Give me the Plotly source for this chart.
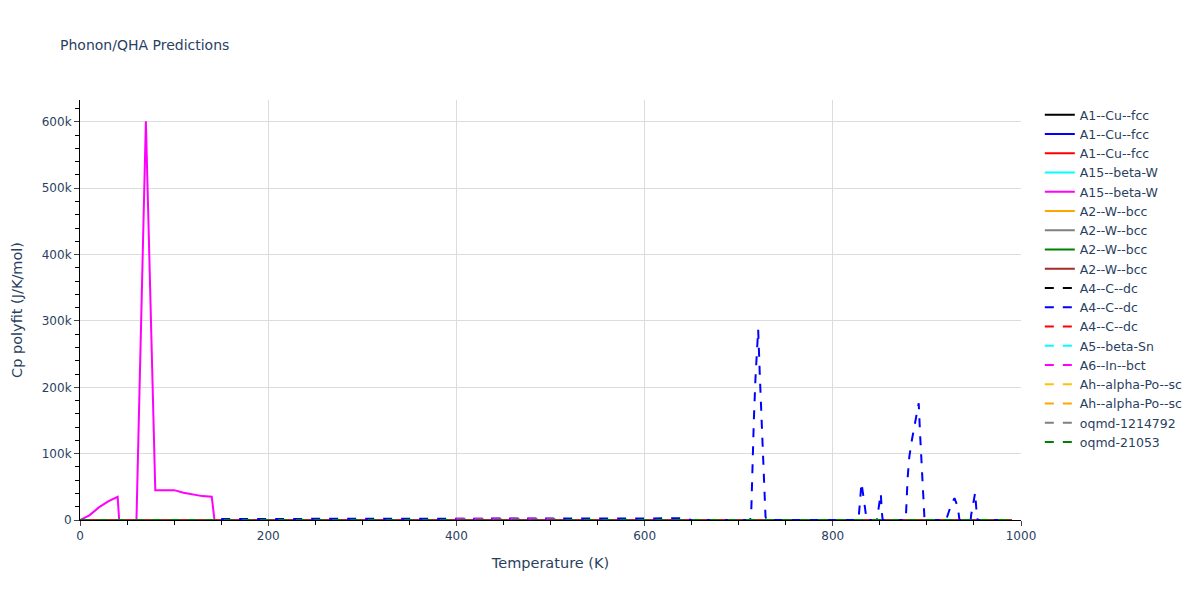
import plotly.graph_objects as go

# ---- data ----
names = ["A1--Cu--fcc", "A1--Cu--fcc", "A1--Cu--fcc", "A15--beta-W", "A15--beta-W",
         "A2--W--bcc", "A2--W--bcc", "A2--W--bcc", "A2--W--bcc",
         "A4--C--dc", "A4--C--dc", "A4--C--dc", "A5--beta-Sn", "A6--In--bct",
         "Ah--alpha-Po--sc", "Ah--alpha-Po--sc", "oqmd-1214792", "oqmd-21053"]
colors = ["black", "blue", "red", "cyan", "magenta", "orange", "gray", "green", "brown",
          "black", "blue", "red", "cyan", "magenta", "#ffc107", "orange", "gray", "green"]
dashes = ["solid"] * 9 + ["dash"] * 9

# common temperature grid for near-zero series
T_flat = list(range(0, 1000, 10))
cp_flat = [25] * len(T_flat)

# A15--beta-W (magenta, solid)
T_a15 = [0, 10, 20, 30, 40, 50, 60, 70, 80, 90, 100, 110, 120, 130, 140, 150, 160]
cp_a15 = [0, 7000, 19000, 28000, 35000, -180000, 0, 601000, 45000, 45000, 45000,
          41000, 38000, 36000, 35000, -85000, -90000]

# A4--C--dc (blue, dashed)
T_a4 = [150, 200, 250, 300, 350, 400, 450, 500, 550, 600, 640, 650, 700, 712,
        713.2, 714.3, 716.1, 717.9, 720.7, 722.5, 724.2, 726.7, 728.5, 729.5,
        800, 827.3, 830.5, 835.0, 836.0, 846.8, 851.0, 852.1, 853.0,
        876.5, 877.7, 879.5, 881.3, 884.1, 887.3, 891.3, 892.7, 894.5, 896.6, 897.5,
        920.4, 925.7, 929.3, 932.8, 934.6, 946.5, 947.0, 951.3, 953.0, 954.0, 990]
cp_a4 = [1500, 1600, 1700, 1800, 1900, 2000, 2100, 2200, 2300, 2400, 2500, 0, 0, 0,
         5000, 75000, 151000, 216000, 287000, 216000, 151000, 75000, 5000, 0,
         0, 0, 56000, 12500, 0, 0, 40000, 12000, 0,
         0, 5000, 63000, 95000, 121000, 148000, 176000, 131000, 80000, 12500, 0,
         0, 22600, 33000, 20000, 0, 0, 7500, 41000, 7500, 0, 0]

# A6--In--bct (magenta, dashed)
T_a6 = [400, 450, 500, 510]
cp_a6 = [1800, 1900, 2000, 0]

fig = go.Figure()
for i, (n, c, d) in enumerate(zip(names, colors, dashes)):
    if i == 4:
        x, y = T_a15, cp_a15
    elif i == 10:
        x, y = T_a4, cp_a4
    elif i == 13:
        x, y = T_a6, cp_a6
    else:
        x, y = T_flat, cp_flat
    fig.add_trace(go.Scatter(x=x, y=y, mode="lines", name=n,
                             line=dict(color=c, dash=d, width=2)))

fig.update_layout(
    template="plotly_white",
    width=1200, height=600,
    font=dict(family="DejaVu Sans"),
    title=dict(text="Phonon/QHA Predictions", font=dict(size=14)),
    legend=dict(font=dict(size=12.5)),
    xaxis=dict(title=dict(text="Temperature (K)", font=dict(size=14.5)),
               range=[0, 1000], dtick=200,
               showline=True, linecolor="black", ticks="outside",
               gridcolor="#dcdcdc", zeroline=False,
               minor=dict(ticks="outside", dtick=50, tickcolor="black", ticklen=4)),
    yaxis=dict(title=dict(text="Cp polyfit (J/K/mol)", font=dict(size=14.5)),
               range=[0, 633000], dtick=100000,
               showline=True, linecolor="black", ticks="outside",
               gridcolor="#dcdcdc", zeroline=False,
               minor=dict(ticks="outside", dtick=20000, tickcolor="black", ticklen=4)),
)
fig.write_html("out.html", config={"displayModeBar": False},
               post_script="document.body.style.margin='0';")
